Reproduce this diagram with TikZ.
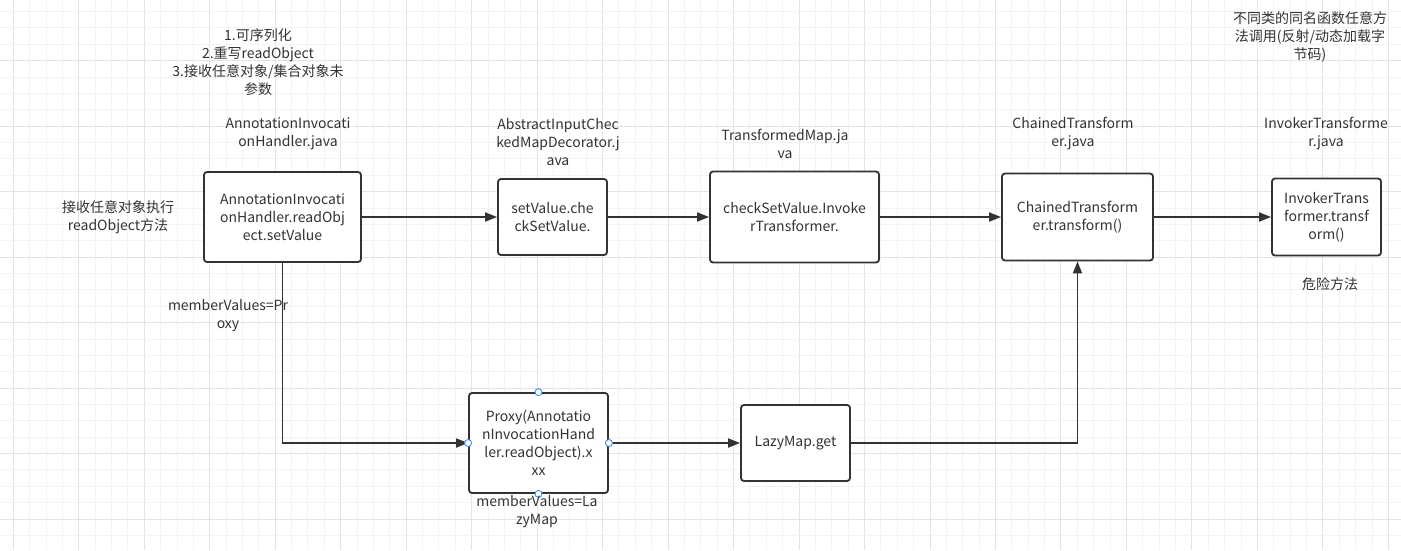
\documentclass[tikz,border=0pt]{standalone}
\usepackage{fontspec}
\setmainfont{Noto Sans CJK SC}
\usetikzlibrary{arrows.meta}

\definecolor{ink}{HTML}{333333}
\definecolor{gridminor}{HTML}{F3F3F3}
\definecolor{gridmajor}{HTML}{E4E4E4}
\definecolor{handle}{HTML}{3C8CF0}

\tikzset{
  box/.style={draw=ink, line width=1.8pt, rounded corners=3pt, fill=white,
    align=center, inner sep=2pt, text=ink, font=\fontsize{14}{18}\selectfont},
  note/.style={align=center, inner sep=0pt, text=ink, font=\fontsize{14}{18}\selectfont},
  flow/.style={draw=ink, line width=1.8pt, -{Triangle[length=12pt,width=9pt]}},
  grip/.style={circle, draw=handle, fill=white, line width=0.9pt, minimum size=7pt, inner sep=0pt},
}

\begin{document}
\begin{tikzpicture}[x=1pt, y=-1pt]
  \useasboundingbox (0,0) rectangle (1401,550);
  \fill [white] (0,0) rectangle (1401,550);

  % 背景の方眼
  \foreach \i in {0,...,85} {
    \pgfmathsetmacro\gx{13.3+(\i-1)*16.37}
    \pgfmathtruncatemacro\m{mod(\i+99,4)}
    \ifnum\m=0 \def\gc{gridmajor}\else\def\gc{gridminor}\fi
    \draw [\gc, line width=1pt] (\gx,0) -- (\gx,550);
  }
  \foreach \j in {0,...,34} {
    \pgfmathsetmacro\gy{11.6+(\j-1)*16.37}
    \pgfmathtruncatemacro\m{mod(\j+99-3,4)}
    \ifnum\m=0 \def\gc{gridmajor}\else\def\gc{gridminor}\fi
    \draw [\gc, line width=1pt] (0,\gy) -- (1401,\gy);
  }

  % 上段のボックス
  \node [box, minimum width=157pt, minimum height=90pt] (handler) at (282.5,217)
    {AnnotationInvocati\\onHandler.readObj\\ect.setValue};
  \node [box, minimum width=109pt, minimum height=76pt] (checked) at (552.5,217)
    {setValue.che\\ckSetValue.};
  \node [box, minimum width=169pt, minimum height=91pt] (transformed) at (794.5,217)
    {checkSetValue.Invoke\\rTransformer.};
  \node [box, minimum width=151pt, minimum height=87pt] (chained) at (1077.5,217)
    {ChainedTransform\\er.transform()};
  \node [box, minimum width=109pt, minimum height=77pt] (invoker) at (1326.5,217)
    {InvokerTrans\\former.transf\\orm()};

  % 下段のボックス
  \node [box, minimum width=139pt, minimum height=100pt] (proxy) at (538.5,443)
    {Proxy(Annotatio\\nInvocationHand\\ler.readObject).x\\xx};
  \node [box, minimum width=109pt, minimum height=76pt] (lazymap) at (795.5,443)
    {LazyMap.get};

  % 矢印
  \draw [flow] (handler) -- (checked);
  \draw [flow] (checked) -- (transformed);
  \draw [flow] (transformed) -- (chained);
  \draw [flow] (chained) -- (invoker);
  \draw [flow] (handler.south) |- (proxy.west);
  \draw [flow] (proxy.east) -- (lazymap.west);
  \draw [flow] (lazymap.east) -| (chained.south);

  % 接続点
  \foreach \a/\n in {north/pn, west/pw, east/pe, south/ps}
    \node [grip] (\n) at (proxy.\a) {};

  % 説明文
  \node [note] (feature) at (258,62)
    {1.可序列化\\2.重写readObject\\3.接收任意对象/集合对象未\\参数};
  \node [note] (handlerfile) at (288,134) {AnnotationInvocati\\onHandler.java};
  \node [note] (entry) at (118,217) {接收任意对象执行\\readObject方法};
  \node [note] (checkedfile) at (558,142) {AbstractInputChec\\kedMapDecorator.j\\ava};
  \node [note] (transformedfile) at (785,143.5) {TransformedMap.ja\\va};
  \node [note] (chainedfile) at (1073,134) {ChainedTransform\\er.java};
  \node [note] (invokerfile) at (1326,134) {InvokerTransforme\\r.java};
  \node [note] (anyway) at (1310,37) {不同类的同名函数任意方\\法调用(反射/动态加载字\\节码)};
  \node [note] (danger) at (1330,284) {危险方法};
  \node [note] (memproxy) at (228,316) {memberValues=Pr\\oxy};
  \node [note] (memlazy) at (537,512) {memberValues=La\\zyMap};

\end{tikzpicture}
\end{document}
